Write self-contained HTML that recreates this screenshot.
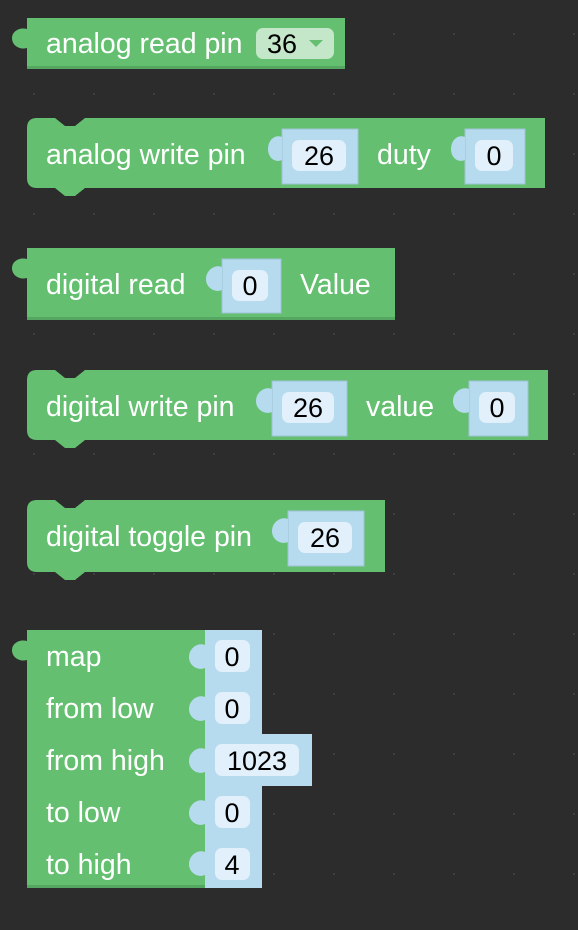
<!DOCTYPE html>
<html><head><style>
html,body{margin:0;padding:0;background:#2c2c2c;}
svg{display:block}
.t{font-family:"Liberation Sans",Arial,sans-serif;font-size:28.5px;fill:#fff;}
.f{font-family:"Liberation Sans",Arial,sans-serif;font-size:27px;fill:#000;text-anchor:middle;}
</style></head><body>
<svg width="578" height="930" viewBox="0 0 578 930">
<defs>
<pattern id="g" width="60" height="60" patternUnits="userSpaceOnUse" x="-27" y="-27"><rect x="0" y="0" width="2" height="2" fill="#3e3e3e"/></pattern>
</defs>
<rect width="578" height="930" fill="#2c2c2c"/>
<rect width="578" height="930" fill="url(#g)"/>

<!-- Block 1 -->
<rect x="27" y="18" width="318" height="51" fill="#64c070"/>
<rect x="27" y="66" width="318" height="3" fill="#55a660"/>
<path d="M27 29 C20 27 12 31 12 38 C12 46 20 50 27 48 Z" fill="#64c070"/>
<text class="t" x="46" y="53">analog read pin</text>
<rect x="256" y="28" width="78" height="31" rx="7" fill="#c3e7c8"/>
<text class="f" x="282" y="53">36</text>
<path d="M309 40 L323 40 L316 47 Z" fill="#64c070"/>

<!-- Block 2 -->
<path d="M37 118 L55 118 L65 126 L75 126 L85 118 L545 118 L545 188 L85 188 L75 196 L65 196 L55 188 L37 188 Q27 188 27 178 L27 128 Q27 118 37 118 Z" fill="#64c070"/>
<text class="t" x="46" y="164">analog write pin</text>
<rect x="282" y="129" width="76" height="55" fill="#b6dbee" stroke="#9fc3d6" stroke-width="1"/>
<path d="M282 137 C275 134 268 140 268 149 C268 158 275 163 282 160 Z" fill="#b6dbee"/>
<rect x="292" y="140" width="54" height="31" rx="7" fill="#e1f0fa"/>
<text class="f" x="319" y="165">26</text>
<text class="t" x="377" y="164">duty</text>
<rect x="465" y="129" width="60" height="55" fill="#b6dbee" stroke="#9fc3d6" stroke-width="1"/>
<path d="M465 137 C458 134 451 140 451 149 C451 158 458 163 465 160 Z" fill="#b6dbee"/>
<rect x="475" y="140" width="38" height="31" rx="7" fill="#e1f0fa"/>
<text class="f" x="494" y="165">0</text>

<!-- Block 3 -->
<rect x="27" y="248" width="368" height="72" fill="#64c070"/>
<rect x="27" y="317" width="368" height="3" fill="#55a660"/>
<path d="M27 259 C20 257 12 261 12 268 C12 276 20 280 27 278 Z" fill="#64c070"/>
<text class="t" x="46" y="294">digital read</text>
<rect x="222" y="259" width="59" height="54" fill="#b6dbee" stroke="#9fc3d6" stroke-width="1"/>
<path d="M222 267 C215 264 206 270 206 279 C206 288 215 293 222 290 Z" fill="#b6dbee"/>
<rect x="232" y="270" width="36" height="31" rx="7" fill="#e1f0fa"/>
<text class="f" x="250" y="295">0</text>
<text class="t" x="300" y="294">Value</text>

<!-- Block 4 -->
<path d="M37 370 L55 370 L65 378 L75 378 L85 370 L548 370 L548 440 L85 440 L75 448 L65 448 L55 440 L37 440 Q27 440 27 430 L27 380 Q27 370 37 370 Z" fill="#64c070"/>
<text class="t" x="46" y="416">digital write pin</text>
<rect x="272" y="381" width="75" height="55" fill="#b6dbee" stroke="#9fc3d6" stroke-width="1"/>
<path d="M272 389 C265 386 256 392 256 401 C256 410 265 415 272 412 Z" fill="#b6dbee"/>
<rect x="282" y="392" width="52" height="31" rx="7" fill="#e1f0fa"/>
<text class="f" x="308" y="417">26</text>
<text class="t" x="366" y="416">value</text>
<rect x="469" y="381" width="59" height="55" fill="#b6dbee" stroke="#9fc3d6" stroke-width="1"/>
<path d="M469 389 C462 386 453 392 453 401 C453 410 462 415 469 412 Z" fill="#b6dbee"/>
<rect x="479" y="392" width="36" height="31" rx="7" fill="#e1f0fa"/>
<text class="f" x="497" y="417">0</text>

<!-- Block 5 -->
<path d="M37 500 L55 500 L65 508 L75 508 L85 500 L385 500 L385 572 L85 572 L75 580 L65 580 L55 572 L37 572 Q27 572 27 562 L27 510 Q27 500 37 500 Z" fill="#64c070"/>
<text class="t" x="46" y="546">digital toggle pin</text>
<rect x="288" y="511" width="76" height="55" fill="#b6dbee" stroke="#9fc3d6" stroke-width="1"/>
<path d="M288 519 C281 516 272 522 272 531 C272 540 281 545 288 542 Z" fill="#b6dbee"/>
<rect x="298" y="522" width="54" height="31" rx="7" fill="#e1f0fa"/>
<text class="f" x="325" y="547">26</text>

<!-- Block 6 -->
<rect x="27" y="630" width="178" height="258" fill="#64c070"/>
<rect x="27" y="885" width="178" height="3" fill="#55a660"/>
<path d="M27 641 C20 639 12 643 12 650 C12 658 20 662 27 660 Z" fill="#64c070"/>
<rect x="205" y="630" width="57" height="258" fill="#b6dbee"/>
<rect x="205" y="734" width="107" height="52" fill="#b6dbee"/>
<g fill="#b6dbee">
<path d="M205 645 C198 642 189 648 189 657 C189 666 198 671 205 668 Z"/>
<path d="M205 697 C198 694 189 700 189 709 C189 718 198 723 205 720 Z"/>
<path d="M205 749 C198 746 189 752 189 761 C189 770 198 775 205 772 Z"/>
<path d="M205 801 C198 798 189 804 189 813 C189 822 198 827 205 824 Z"/>
<path d="M205 852 C198 849 189 855 189 864 C189 873 198 878 205 875 Z"/>
</g>
<g fill="#e1f0fa">
<rect x="215" y="640" width="35" height="32" rx="7"/>
<rect x="215" y="692" width="35" height="32" rx="7"/>
<rect x="215" y="744" width="84" height="32" rx="7"/>
<rect x="215" y="796" width="35" height="32" rx="7"/>
<rect x="215" y="848" width="35" height="32" rx="7"/>
</g>
<text class="t" x="46" y="666">map</text>
<text class="t" x="46" y="718">from low</text>
<text class="t" x="46" y="770">from high</text>
<text class="t" x="46" y="822">to low</text>
<text class="t" x="46" y="874">to high</text>
<text class="f" x="232" y="666">0</text>
<text class="f" x="232" y="718">0</text>
<text class="f" x="257" y="770">1023</text>
<text class="f" x="232" y="822">0</text>
<text class="f" x="232" y="874">4</text>
</svg>
</body></html>
